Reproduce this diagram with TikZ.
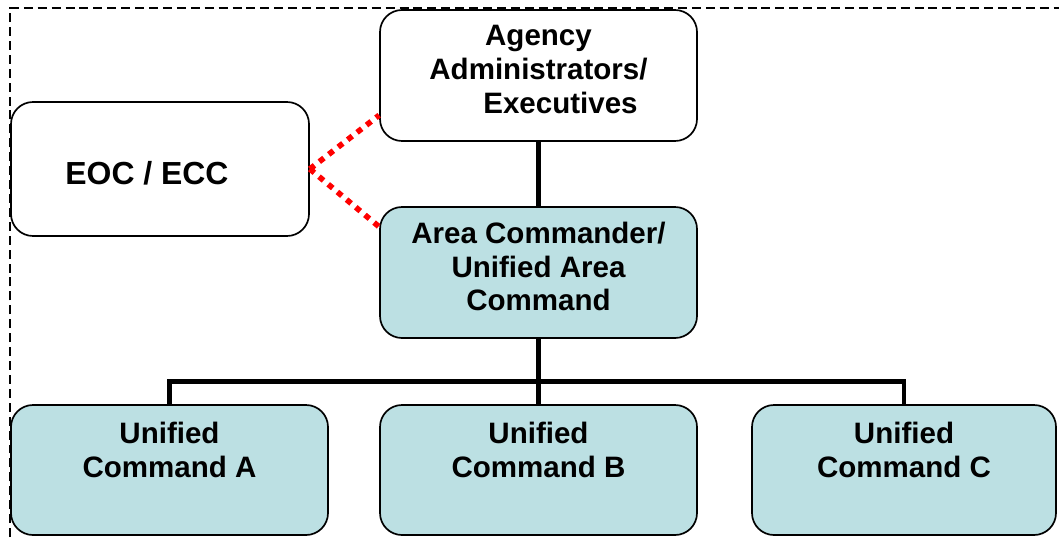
\documentclass[tikz,border=0pt]{standalone}
\usepackage{fontspec}
\setmainfont{Liberation Sans}
\usepackage{xcolor}
\usepackage{tikz}
\usetikzlibrary{calc}
\usetikzlibrary{positioning}
\definecolor{cmdblue}{RGB}{188,224,227}
\tikzstyle{block}    = [rectangle, draw, line width=1.2pt, fill=white, text centered, align=center, rounded corners=0.55cm, inner sep=0pt, minimum width=7.925cm, minimum height=3.275cm, font=\bfseries\fontsize{21}{24}\selectfont]
\tikzstyle{cmd}      = [block, fill=cmdblue]
\tikzstyle{line}     = [draw, line width=3.5pt]
\tikzstyle{link}     = [draw, red, line width=4pt, dash pattern=on 4.2pt off 4.3pt]
\tikzstyle{frame}    = [draw, line width=1.6pt, dash pattern=on 6.4pt off 3.5pt]

\begin{document}
\begin{tikzpicture}[node distance = 4.925cm, auto]
	\useasboundingbox (0,0) rectangle (26.475,-13.425);
	\draw [frame] (0.25,-13.425) |- (26.475,-0.2);
	\node [block] (agency) at (13.4625,-1.8875) {Agency\\Administrators/\\\hspace*{1.1cm}Executives\\[-15.5pt]\mbox{}};
	\node [cmd, below of=agency] (area) {Area Commander/\\Unified Area\\Command\\[-15.5pt]\mbox{}};
	\node [block, left of=agency, node distance=9.4625cm, yshift=-2.3375cm, minimum width=7.45cm, minimum height=3.35cm, font=\bfseries\fontsize{22.7}{24}\selectfont] (eoc) {\mbox{}\\[-1pt]EOC / ECC\hspace*{0.65cm}};
	\node [cmd, below of=area, node distance=4.9375cm, minimum height=3.25cm] (ucb) {Unified\\Command B\\[5pt]\mbox{}};
	\node [cmd, left of=ucb, node distance=9.225cm, minimum height=3.25cm] (uca) {Unified\\Command A\\[5pt]\mbox{}};
	\node [cmd, right of=ucb, node distance=9.1375cm, minimum height=3.25cm, minimum width=7.6cm] (ucc) {Unified\\Command C\\[5pt]\mbox{}};
	\coordinate (bar) at ($(area.south)+(0,-1.075)$);
	\path [line] (agency) -- (area);
	\path [line] (area.south) -- (bar);
	\path [line] (uca.north) |- (bar) -| (ucc.north);
	\path [line] (bar) -- (ucb.north);
	\path [link] (eoc.east) -- (agency.194);
	\path [link] (eoc.east) -- (area.164);
\end{tikzpicture}
\end{document}
